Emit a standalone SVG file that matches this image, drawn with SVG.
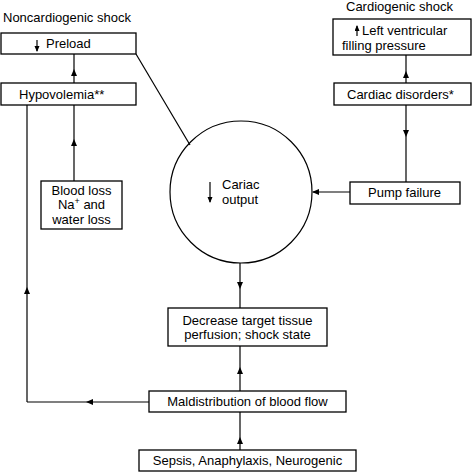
<svg xmlns="http://www.w3.org/2000/svg" width="473" height="472" viewBox="0 0 473 472">
<style>
  text { font-family: "Liberation Sans", Arial, sans-serif; font-size: 13px; fill: #000; }
  .box { fill: #fff; stroke: #000; stroke-width: 1.3; }
  .ln { fill: none; stroke: #000; stroke-width: 1.2; }
  .c { text-anchor: middle; }
</style>
<defs>
  <marker id="ah" markerWidth="8" markerHeight="6" refX="6" refY="3" orient="auto" markerUnits="userSpaceOnUse">
    <path d="M0,0 L7,3 L0,6 Z" fill="#000"/>
  </marker>
  <marker id="sm" markerWidth="6" markerHeight="6" refX="5" refY="2.5" orient="auto" markerUnits="userSpaceOnUse">
    <path d="M0,0 L6,2.5 L0,5 Z" fill="#000"/>
  </marker>
</defs>

<text x="3" y="22">Noncardiogenic shock</text>
<text x="346" y="11">Cardiogenic shock</text>

<g id="connectors">
  <polyline class="ln" points="74,83 74,70 74,54" marker-mid="url(#ah)"/>
  <polyline class="ln" points="74,181 74,140 74,105" marker-mid="url(#ah)"/>
  <line class="ln" x1="136" y1="54" x2="190" y2="145"/>
  <polyline class="ln" points="149,402 87,402 27,402" marker-mid="url(#ah)"/>
  <polyline class="ln" points="27,402 27,288 27,105" marker-mid="url(#ah)"/>
  <polyline class="ln" points="406,83 406,72 406,55" marker-mid="url(#ah)"/>
  <polyline class="ln" points="406,105 406,136 406,182" marker-mid="url(#ah)"/>
  <line class="ln" x1="350" y1="192" x2="313" y2="192" marker-end="url(#ah)"/>
  <polyline class="ln" points="240,263 240,288 240,308" marker-mid="url(#ah)"/>
  <polyline class="ln" points="240,391 240,368 240,346" marker-mid="url(#ah)"/>
  <polyline class="ln" points="240,450 240,438 240,412" marker-mid="url(#ah)"/>
</g>

<g id="preload">
  <rect class="box" x="1" y="33" width="135" height="21"/>
  <line class="ln" x1="37" y1="40" x2="37" y2="51" marker-end="url(#sm)"/>
  <text x="46" y="48">Preload</text>
</g>

<g id="hypovolemia">
  <rect class="box" x="1" y="83" width="135" height="22"/>
  <text x="19" y="99">Hypovolemia**</text>
</g>

<g id="bloodloss">
  <rect class="box" x="41" y="181" width="81" height="48"/>
  <text class="c"><tspan x="81.5" y="194.5">Blood loss</tspan><tspan x="81.5" y="209">Na<tspan font-size="9" dy="-5">+</tspan><tspan dy="5"> and</tspan></tspan><tspan x="81.5" y="223.5">water loss</tspan></text>
</g>

<g id="cardiac-output">
  <circle class="ln" cx="241" cy="192" r="71"/>
  <line class="ln" x1="210" y1="182" x2="210" y2="202" marker-end="url(#sm)"/>
  <text x="222" y="189">Cariac</text>
  <text x="222" y="204">output</text>
</g>

<g id="lv-filling">
  <rect class="box" x="333" y="19" width="138" height="36"/>
  <line class="ln" x1="357" y1="36" x2="357" y2="26" marker-end="url(#sm)"/>
  <text x="362" y="35">Left ventricular</text>
  <text x="342" y="50">filling pressure</text>
</g>

<g id="cardiac-disorders">
  <rect class="box" x="334" y="83" width="137" height="22"/>
  <text x="347" y="99">Cardiac disorders*</text>
</g>

<g id="pump-failure">
  <rect class="box" x="350" y="182" width="110" height="22"/>
  <text x="368" y="197">Pump failure</text>
</g>

<g id="decrease">
  <rect class="box" x="168" y="308" width="159" height="38"/>
  <text class="c" x="247.5" y="325">Decrease target tissue</text>
  <text class="c" x="247.5" y="339">perfusion; shock state</text>
</g>

<g id="maldistribution">
  <rect class="box" x="149" y="391" width="197" height="21"/>
  <text class="c" x="247.5" y="406">Maldistribution of blood flow</text>
</g>

<g id="sepsis">
  <rect class="box" x="139" y="450" width="217" height="21"/>
  <text class="c" x="247.5" y="465">Sepsis, Anaphylaxis, Neurogenic</text>
</g>
</svg>
